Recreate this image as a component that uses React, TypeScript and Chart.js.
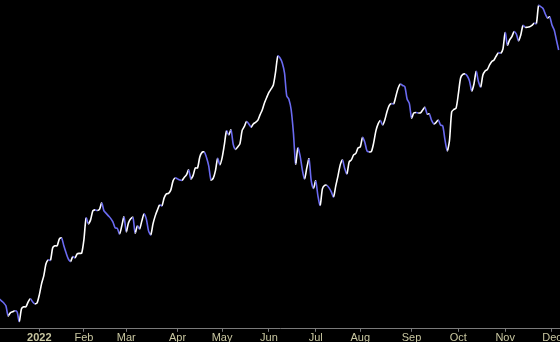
import React, { useEffect, useRef } from "react";
import { Chart, registerables } from "chart.js";

Chart.register(...registerables);

// Daily closes, Dec 2021 – Dec 2022 (one per trading day, index = trading-day number)
const closes: number[] = [
  30, 28, 26, 23, 13, 16, 17, 18, 17, 7.3,
  20, 22, 22, 27, 30, 27, 25, 26, 34, 45,
  53, 65, 69, 68.5, 81, 83, 83, 90, 91, 83,
  76, 70, 67.3, 72.3, 71, 75, 75.5, 75.7, 89, 111,
  105, 109, 118, 119, 118.3, 119.5, 126, 118, 115.5, 113,
  110.5, 107, 101, 100.5, 95, 103, 112, 97.3, 106, 110,
  111.5, 96, 103, 100, 108, 115, 110, 98, 94, 105,
  113, 119, 124, 123, 131, 135, 135.5, 139, 148, 151,
  150, 149, 148.5, 151.5, 154, 159, 150, 153.5, 161, 161,
  172, 176.5, 177, 171.5, 163, 149, 150.5, 158, 170.5, 164,
  171, 184, 198, 194, 199, 184.5, 179.5, 182, 185, 198.5,
  202.5, 207.5, 205, 201.7, 205, 206.5, 208.5, 214, 219, 226,
  231.5, 236.5, 240, 244, 257, 273, 271, 266, 256, 233,
  229.5, 219, 196, 165, 181, 173, 159, 150, 161, 170,
  148, 140.5, 148, 133, 123.5, 140, 143.5, 143.5, 141, 137,
  132, 143, 153, 164, 169, 160.5, 155, 167, 169, 174,
  175.5, 181, 182, 191.5, 187, 178, 177, 177.5, 186, 198,
  205, 208.5, 204, 209, 217.5, 223.5, 225.5, 225, 233, 241,
  245, 243.5, 242.3, 230, 225.5, 211, 216, 216.5, 216, 216,
  219, 221.5, 215, 215, 208.5, 205, 206.5, 209, 204, 203,
  189, 178, 188, 217, 219.5, 221, 235, 251, 254.5, 255,
  253, 248, 238, 245, 257.5, 247.5, 242, 254, 258, 259.5,
  264, 267.5, 269, 273, 276.3, 275.7, 280, 296.5, 284, 289,
  292.3, 297.3, 295, 288, 294, 303.5, 301.7, 301.7, 302.2, 303.5,
  305.7, 305.5, 323.5, 322.3, 320.5, 315, 311, 312, 304, 299,
  289, 279,
];

// First trading day of each month (index into closes) and its label
const monthStartIndex: number[] = [18, 38, 57, 80, 100, 121, 142, 162, 185, 206, 227, 248];
const monthLabels: string[] = ["2022", "Feb", "Mar", "Apr", "May", "Jun", "Jul", "Aug", "Sep", "Oct", "Nov", "Dec"];

const UP_COLOR = "#ffffff";
const DOWN_COLOR = "#6a6af0";
const LABEL_COLOR = "#c8c6a0";
const AXIS_COLOR = "#7a7a7a";

export default function App() {
  const canvasRef = useRef<HTMLCanvasElement | null>(null);

  useEffect(() => {
    document.body.style.margin = "0";
    document.body.style.background = "#000";
    document.body.style.overflow = "hidden";
    const canvas = canvasRef.current;
    if (!canvas) return;
    const points = closes.map((v, i) => ({ x: i, y: v }));
    const chart = new Chart(canvas, {
      type: "line",
      data: {
        datasets: [
          {
            data: points,
            borderWidth: 1.6,
            borderColor: UP_COLOR,
            pointRadius: 0,
            tension: 0.25,
            segment: {
              borderColor: (ctx: any) => (ctx.p1.parsed.y >= ctx.p0.parsed.y ? UP_COLOR : DOWN_COLOR),
            },
          },
        ],
      },
      options: {
        animation: false,
        responsive: false,
        maintainAspectRatio: false,
        layout: { padding: 0 },
        plugins: { legend: { display: false }, tooltip: { enabled: false } },
        scales: {
          x: {
            type: "linear",
            min: 0.36,
            max: 251.6,
            afterBuildTicks: (scale: any) => {
              scale.ticks = monthStartIndex.map((v) => ({ value: v }));
            },
            afterFit: (scale: any) => {
              scale.paddingLeft = 0;
              scale.paddingRight = 0;
            },
            grid: {
              display: true,
              drawOnChartArea: false,
              drawTicks: true,
              tickLength: 3,
              color: AXIS_COLOR,
            },
            border: { display: true, color: AXIS_COLOR, width: 1 },
            ticks: {
              autoSkip: false,
              maxRotation: 0,
              minRotation: 0,
              padding: 0,
              color: LABEL_COLOR,
              font: (ctx: any) => ({
                family: "'Liberation Sans', Arial, sans-serif",
                size: 11,
                lineHeight: 1.2,
                weight: ctx.tick && ctx.tick.label === monthLabels[0] ? "bold" : "normal",
              }),
              callback: (value: any) => {
                const k = monthStartIndex.indexOf(Number(value));
                return k >= 0 ? monthLabels[k] : "";
              },
            },
          },
          y: {
            display: false,
            min: 0,
            max: 329,
          },
        },
      },
    });
    return () => chart.destroy();
  }, []);

  return (
    <div style={{ position: "fixed", left: 0, top: 0, width: 560, height: 345, background: "#000" }}>
      <canvas ref={canvasRef} width={560} height={345} style={{ display: "block", width: 560, height: 345 }} />
    </div>
  );
}
